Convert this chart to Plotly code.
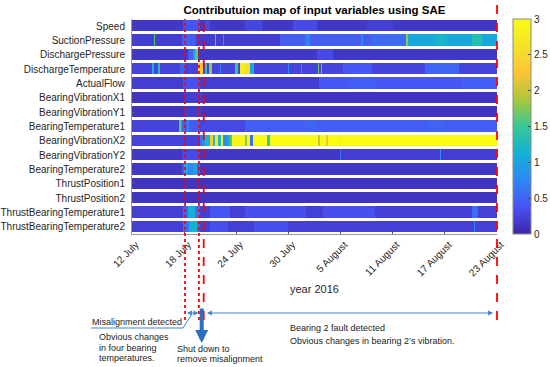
import plotly.graph_objects as go

# ---------------- data ----------------
variables = ["Speed", "SuctionPressure", "DischargePressure", "DischargeTemperature",
             "ActualFlow", "BearingVibrationX1", "BearingVibrationY1", "BearingTemperature1",
             "BearingVibrationX2", "BearingVibrationY2", "BearingTemperature2",
             "ThrustPosition1", "ThrustPosition2", "ThrustBearingTemperature1",
             "ThrustBearingTemperature2"]

# day offsets from 12 July 2016
day_range = [0, 42]
step = 0.1
tick_days = [0, 6, 12, 18, 24, 30, 36, 42]
tick_labels = ["12 July", "18 July", "24 July", "30 July", "5 August",
               "11 August", "17 August", "23 August"]
cbar_ticks = [0, 0.5, 1, 1.5, 2, 2.5, 3]

# contribution per variable: base level + [start_day, end_day, value] segments
base_speed = 0.15
seg_speed = [[5.9, 7.8, 0.4], [8.4, 9.0, 0.3], [13, 15, 0.28], [18.5, 21.3, 0.3], [27, 30, 0.22]]
base_suction = 0.2
seg_suction = [[2.5, 2.6, 1.6], [5.8, 7.4, 0.45], [9.6, 9.7, 1.6], [10.5, 10.6, 0.9],
               [17.0, 27.6, 0.45], [19.9, 20.5, 0.7], [26.4, 26.6, 0.8], [27.6, 31.5, 0.55],
               [31.5, 31.8, 1.8], [31.8, 42, 1.05], [35, 36, 1.2], [39.1, 40.3, 1.35]]
base_dpress = 0.15
seg_dpress = [[6.5, 7.0, 0.45], [7.0, 7.25, 1.0], [7.25, 7.6, 1.6], [21.3, 23.1, 0.3]]
base_dtemp = 0.25
seg_dtemp = [[2.3, 2.5, 1.1], [3.0, 3.2, 1.3], [5.5, 6.1, 0.5], [7.6, 8.2, 2.3], [8.4, 8.6, 1.4],
             [8.9, 9.2, 1.8], [9.5, 9.6, 1.0], [10.1, 10.2, 0.7], [11.8, 12.2, 1.5],
             [12.4, 13.0, 2.8], [13.0, 13.6, 2.6], [13.6, 13.9, 1.0], [13.9, 14.0, 1.3],
             [17.9, 18.1, 0.8], [19.5, 19.6, 0.7], [21.4, 21.5, 1.7], [21.8, 21.9, 1.6],
             [22.5, 22.6, 1.5], [24.3, 27.6, 0.4], [33.7, 37.6, 0.5], [40.0, 40.1, 0.9]]
base_flow = 0.2
seg_flow = [[5.9, 7.8, 0.35], [21.5, 42, 0.4], [25, 28, 0.45], [38, 42, 0.45]]
base_vx1 = 0.12
seg_vx1 = [[6, 8, 0.2]]
base_vy1 = 0.12
seg_vy1 = [[6, 8, 0.18]]
base_bt1 = 0.25
seg_bt1 = [[5.4, 5.6, 1.6], [5.6, 5.75, 1.1], [5.75, 6.3, 0.5], [6.3, 6.6, 0.75],
           [6.45, 6.55, 1.1], [6.6, 7.8, 0.45], [8, 13, 0.3], [13, 42, 0.45], [20, 21, 0.5], [34, 36, 0.5]]
base_vx2 = 0.25
seg_vx2 = [[7.8, 8.1, 0.6], [8.1, 8.4, 0.8], [8.4, 9.0, 1.2], [9.0, 9.3, 2.3], [9.3, 9.55, 1.3],
           [9.65, 9.9, 2.7], [9.9, 10.25, 1.2], [10.25, 10.5, 2.8], [10.5, 10.9, 0.8],
           [10.9, 11.3, 1.1], [11.3, 11.5, 1.6], [11.5, 13.0, 2.9], [13.0, 13.2, 1.8],
           [13.2, 13.6, 2.9], [13.6, 13.9, 0.6], [13.9, 15.5, 3.0], [15.5, 15.9, 1.5],
           [15.9, 21.45, 3.0], [21.45, 21.6, 2.0], [21.6, 22.35, 3.0], [22.35, 22.5, 2.2],
           [22.5, 23.8, 3.0], [23.8, 23.9, 2.7], [23.9, 42, 3.0]]
base_vy2 = 0.15
seg_vy2 = [[5.8, 7.8, 0.3], [23.9, 24.0, 0.6], [24, 42, 0.2], [35.4, 35.55, 0.8]]
base_bt2 = 0.15
seg_bt2 = [[5.8, 6.0, 0.4], [6.0, 6.5, 1.0], [6.5, 7.0, 0.75], [7.0, 7.5, 1.0], [7.5, 7.8, 0.5]]
base_tp1 = 0.12
seg_tp1 = []
base_tp2 = 0.12
seg_tp2 = []
base_tbt1 = 0.22
seg_tbt1 = [[5.9, 6.4, 0.5], [6.4, 7.3, 1.1], [7.3, 7.8, 0.6], [9, 11.3, 0.4],
            [13, 20, 0.35], [22, 28, 0.35], [39.1, 39.8, 0.55]]
base_tbt2 = 0.22
seg_tbt2 = [[5.9, 6.6, 0.6], [6.6, 7.5, 1.15], [7.5, 7.8, 0.6], [9, 11, 0.35],
            [14, 18, 0.35], [39.4, 39.5, 0.7]]

bases = [base_speed, base_suction, base_dpress, base_dtemp, base_flow, base_vx1, base_vy1,
         base_bt1, base_vx2, base_vy2, base_bt2, base_tp1, base_tp2, base_tbt1, base_tbt2]
segments = [seg_speed, seg_suction, seg_dpress, seg_dtemp, seg_flow, seg_vx1, seg_vy1,
            seg_bt1, seg_vx2, seg_vy2, seg_bt2, seg_tp1, seg_tp2, seg_tbt1, seg_tbt2]

# event days (offset from 12 July)
ev_misalign = 6.1
ev_temp_end = 7.7
ev_shutdown = 8.25
ev_shut_arrow = 8.02
ev_end = 42.0

# ---------------- build grid ----------------
ncol = int(round((day_range[1] - day_range[0]) / step))
xs = [day_range[0] + (i + 0.5) * step for i in range(ncol)]
z = []
for b, segs in zip(bases, segments):
    row = []
    for x in xs:
        v = b
        for s0, s1, val in segs:
            if s0 <= x < s1:
                v = val
        row.append(v)
    z.append(row)

parula = [
    [0.0, "rgb(62,38,168)"], [0.125, "rgb(72,82,244)"], [0.25, "rgb(46,135,247)"],
    [0.375, "rgb(18,177,214)"], [0.5, "rgb(55,200,151)"], [0.625, "rgb(171,199,57)"],
    [0.75, "rgb(254,195,56)"], [0.875, "rgb(245,227,39)"], [1.0, "rgb(249,251,21)"]]

FONT = "Liberation Sans, Arial, sans-serif"
TXT = "#262626"

fig = go.Figure(go.Heatmap(
    x=xs, y=variables, z=z, zmin=0, zmax=3, colorscale=parula, ygap=3,
    colorbar=dict(x=1.044, xanchor="left", xpad=0, y=0.5, yanchor="middle", ypad=0,
                  len=1, thickness=18, outlinecolor="#8a8a8a", outlinewidth=1,
                  tickvals=cbar_ticks, ticks="inside", ticklen=3,
                  tickcolor="#444", tickfont=dict(family=FONT, size=10, color=TXT))))

W, H = 550, 367
ML, MR, MT, MB = 132, 53, 19, 133
PW, PH = W - ML - MR, H - MT - MB


def xp(day):
    return (day - day_range[0]) / (day_range[1] - day_range[0])


def yp(pix):
    return (H - MB - pix) / PH


shapes = []
for d, dash, top in [(ev_misalign, "dot", 1.0), (ev_temp_end, "dot", 1.0),
                     (ev_shutdown, "dash", 1.0), (ev_end, "dash", yp(0))]:
    shapes.append(dict(type="line", xref="paper", yref="paper", x0=xp(d), x1=xp(d),
                       y0=yp(320), y1=top, line=dict(color="red", width=1.8, dash=dash)))
# leader line under "Misalignment detected"
shapes.append(dict(type="path", xref="paper", yref="paper",
                   path=f"M {(91-ML)/PW} {yp(328)} L {(183-ML)/PW} {yp(328)} L {(192-ML)/PW} {yp(314)}",
                   line=dict(color="#3d85d8", width=1)))

ann = []
AC = "#3d85d8"
ann.append(dict(xref="x", yref="paper", x=ev_temp_end - 0.05, y=yp(313), axref="x", ayref="pixel",
                ax=ev_misalign + 0.05, ay=0, showarrow=True, arrowhead=2, arrowside="end+start",
                arrowsize=1, arrowwidth=1, arrowcolor=AC, text=""))
ann.append(dict(xref="x", yref="paper", x=41.55, y=yp(313), axref="x", ayref="pixel",
                ax=ev_shutdown + 0.2, ay=0, showarrow=True, arrowhead=2, arrowside="end+start",
                arrowsize=1, arrowwidth=1, arrowcolor=AC, text=""))
ann.append(dict(xref="x", yref="paper", x=ev_shut_arrow, y=yp(343), ax=0, ay=-36,
                showarrow=True, arrowhead=2, arrowsize=0.65, arrowwidth=4,
                arrowcolor="#2e6dbf", text=""))

def txt(s, xpix, ypix, size=9):
    ann.append(dict(xref="paper", yref="paper", x=(xpix - ML) / PW, y=yp(ypix),
                    xanchor="left", yanchor="middle", showarrow=False, text=s,
                    font=dict(family=FONT, size=size, color="#222")))

txt("Misalignment detected", 90, 322, 9)
txt("Obvious changes", 97, 337)
txt("in four bearing", 97, 347.5)
txt("temperatures.", 97, 358)
txt("Shut down to", 175, 349)
txt("remove misalignment", 175, 359)
txt("Bearing 2 fault detected", 288, 328)
txt("Obvious changes in bearing 2\u2019s vibration.", 288, 341)
ann.append(dict(xref="paper", yref="paper", x=0.5, y=yp(289), xanchor="center",
                yanchor="middle", showarrow=False, text="year 2016",
                font=dict(family=FONT, size=11, color=TXT)))

fig.update_layout(
    width=W, height=H, margin=dict(l=ML, r=MR, t=MT, b=MB, pad=0, autoexpand=False),
    paper_bgcolor="white", plot_bgcolor="white",
    title=dict(text="<b>Contributuion map of input variables using SAE</b>", x=(ML + PW / 2) / W,
               xanchor="center", y=1 - 10 / H, yanchor="middle",
               font=dict(family=FONT, size=11.5, color="black")),
    xaxis=dict(range=day_range, tickvals=tick_days, ticktext=tick_labels, tickangle=-45,
               ticks="inside", ticklen=3, tickcolor="#555", showline=True, linecolor="#999",
               showgrid=False, zeroline=False, automargin=False, ticklabelshift=4,
               tickfont=dict(family=FONT, size=10, color=TXT)),
    yaxis=dict(autorange="reversed", ticks="inside", ticklen=3, tickcolor="#555",
               showline=True, linecolor="#999", showgrid=False, zeroline=False,
               automargin=False, ticklabelstandoff=4,
               tickfont=dict(family=FONT, size=10, color=TXT)),
    shapes=shapes, annotations=ann, showlegend=False)

fig.write_html("out.html", config={"displayModeBar": False},
               post_script="document.body.style.margin='0';")
